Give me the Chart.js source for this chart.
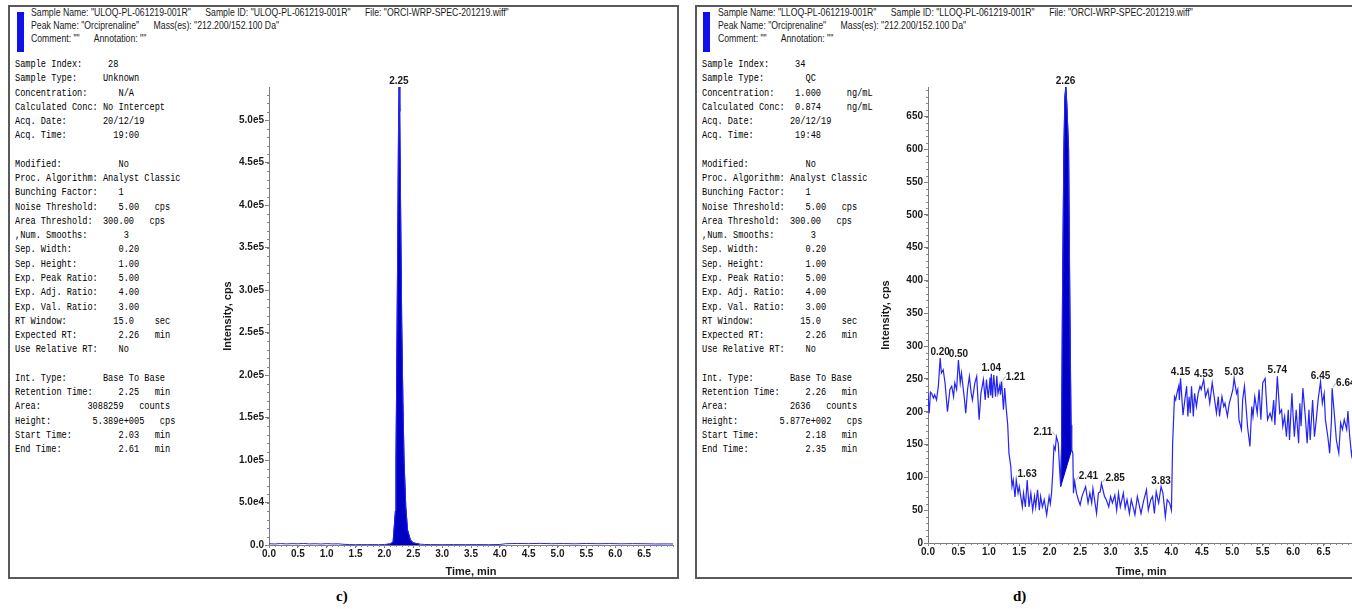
<!DOCTYPE html>
<html>
<head>
<meta charset="utf-8">
<title>Orciprenaline chromatograms</title>
<script src="https://cdn.jsdelivr.net/npm/chart.js"></script>
<style>
    html, body { margin: 0; padding: 0; background: #fff; overflow: hidden; }
    body { position: relative; width: 1352px; height: 609px; }
    .panel { position: absolute; top: 5px; height: 574px; border: 2px solid #5a5a5a; box-sizing: border-box; }
    .bar { position: absolute; top: 12px; width: 7px; height: 40px; background: #1010e8; }
    .hdr {
        position: absolute; top: 6px; white-space: pre; color: #1a1a1a;
        font: 11px/13px "Liberation Sans", Arial, sans-serif;
        transform: scaleX(0.79); transform-origin: 0 0;
    }
    .info {
        position: absolute; top: 58px; white-space: pre; color: #000;
        font: 10px/14.26px "Liberation Mono", "Courier New", monospace;
        transform: scaleX(0.862); transform-origin: 0 0;
    }
    .tag { position: absolute; top: 588px; font: bold 15px "Liberation Serif", "Times New Roman", serif; color: #000; }
    canvas { position: absolute; top: 70px; }
</style>
</head>
<body>
    <!-- panel c) -->
    <div class="panel" style="left:8px; width:671px;"></div>
    <div class="bar" style="left:17px;"></div>
    <div class="hdr" style="left:31px;">Sample Name: &quot;ULOQ-PL-061219-001R&quot;      Sample ID: &quot;ULOQ-PL-061219-001R&quot;      File: &quot;ORCI-WRP-SPEC-201219.wiff&quot;
Peak Name: &quot;Orciprenaline&quot;      Mass(es): &quot;212.200/152.100 Da&quot;
Comment: &quot;&quot;      Annotation: &quot;&quot;</div>
    <div class="info" style="left:15px;">Sample Index:     28
Sample Type:     Unknown
Concentration:      N/A
Calculated Conc: No Intercept
Acq. Date:       20/12/19
Acq. Time:         19:00

Modified:           No
Proc. Algorithm: Analyst Classic
Bunching Factor:    1
Noise Threshold:    5.00   cps
Area Threshold:  300.00   cps
,Num. Smooths:       3
Sep. Width:         0.20
Sep. Height:        1.00
Exp. Peak Ratio:    5.00
Exp. Adj. Ratio:    4.00
Exp. Val. Ratio:    3.00
RT Window:         15.0    sec
Expected RT:        2.26   min
Use Relative RT:    No

Int. Type:       Base To Base
Retention Time:     2.25   min
Area:         3088259   counts
Height:        5.389e+005   cps
Start Time:         2.03   min
End Time:           2.61   min</div>
    <canvas id="chartC" width="458" height="512" style="left:220px;"></canvas>
    <div class="tag" style="left:336px;">c)</div>

    <!-- panel d) -->
    <div class="panel" style="left:695px; width:700px;"></div>
    <div class="bar" style="left:703px;"></div>
    <div class="hdr" style="left:718px;">Sample Name: &quot;LLOQ-PL-061219-001R&quot;      Sample ID: &quot;LLOQ-PL-061219-001R&quot;      File: &quot;ORCI-WRP-SPEC-201219.wiff&quot;
Peak Name: &quot;Orciprenaline&quot;      Mass(es): &quot;212.200/152.100 Da&quot;
Comment: &quot;&quot;      Annotation: &quot;&quot;</div>
    <div class="info" style="left:702px;">Sample Index:     34
Sample Type:        QC
Concentration:    1.000     ng/mL
Calculated Conc:  0.874     ng/mL
Acq. Date:       20/12/19
Acq. Time:        19:48

Modified:           No
Proc. Algorithm: Analyst Classic
Bunching Factor:    1
Noise Threshold:    5.00   cps
Area Threshold:  300.00   cps
,Num. Smooths:       3
Sep. Width:         0.20
Sep. Height:        1.00
Exp. Peak Ratio:    5.00
Exp. Adj. Ratio:    4.00
Exp. Val. Ratio:    3.00
RT Window:         15.0    sec
Expected RT:        2.26   min
Use Relative RT:    No

Int. Type:       Base To Base
Retention Time:     2.26   min
Area:            2636   counts
Height:        5.877e+002   cps
Start Time:         2.18   min
End Time:           2.35   min</div>
    <canvas id="chartD" width="481" height="512" style="left:878px;"></canvas>
    <div class="tag" style="left:1013px;">d)</div>

<script>
// axis ticks shared by both panels / per panel
const timeTicks = [0.0, 0.5, 1.0, 1.5, 2.0, 2.5, 3.0, 3.5, 4.0, 4.5, 5.0, 5.5, 6.0, 6.5];
const cYTicks = [0, 50000, 100000, 150000, 200000, 250000, 300000, 350000, 400000, 450000, 500000];
const dYTicks = [0, 50, 100, 150, 200, 250, 300, 350, 400, 450, 500, 550, 600, 650];

// c) ULOQ trace (time in min, intensity in cps)
const cTime = [0.00, 0.10, 0.20, 0.30, 0.40, 0.50, 0.60, 0.70, 0.80, 0.90,
    1.00, 1.10, 1.20, 1.30, 1.40, 1.50, 1.60, 1.70, 1.80, 1.90,
    2.00, 2.03, 2.10, 2.15, 2.19, 2.20, 2.21, 2.23, 2.245, 2.255,
    2.265, 2.28, 2.30, 2.32, 2.34, 2.37, 2.40, 2.45, 2.50, 2.61,
    2.70, 2.80, 3.00, 3.20, 3.40, 3.60, 3.80, 4.00, 4.10, 4.30,
    4.50, 4.70, 4.90, 5.10, 5.30, 5.50, 5.70, 5.90, 6.10, 6.30,
    6.50, 6.70, 6.90, 7.00];
const cIntensity = [1500, 1200, 1700, 1300, 1600, 1400, 1800, 1300, 1500, 1200,
    1600, 1300, 1400, 800, 500, 400, 500, 400, 500, 400,
    600, 700, 1200, 3500, 40000, 100000, 180000, 350000, 500000, 538900,
    510000, 400000, 260000, 170000, 100000, 45000, 18000, 6000, 2500, 1000,
    600, 500, 400, 500, 400, 500, 400, 600, 1500, 1800,
    1600, 1900, 1500, 1700, 1400, 1800, 1500, 1700, 1400, 1600,
    1500, 1200, 1300, 1200];
const cPeakWindow = [2.03, 2.61];
const cLabelTime = [2.25];
const cLabelHeight = [538900];

// d) LLOQ trace
const dTime = [0.00, 0.02, 0.04, 0.06, 0.09, 0.11, 0.14, 0.17, 0.20, 0.22,
    0.25, 0.28, 0.32, 0.36, 0.39, 0.42, 0.44, 0.47, 0.50, 0.53,
    0.55, 0.60, 0.62, 0.65, 0.68, 0.71, 0.73, 0.77, 0.80, 0.84,
    0.87, 0.91, 0.94, 0.96, 0.99, 1.02, 1.03, 1.04, 1.06, 1.08,
    1.11, 1.13, 1.15, 1.18, 1.19, 1.21, 1.24, 1.26, 1.29, 1.31,
    1.33, 1.36, 1.38, 1.40, 1.43, 1.45, 1.48, 1.50, 1.55, 1.57,
    1.60, 1.63, 1.66, 1.69, 1.72, 1.75, 1.77, 1.80, 1.83, 1.85,
    1.88, 1.91, 1.95, 1.99, 2.01, 2.03, 2.05, 2.07, 2.09, 2.11,
    2.14, 2.16, 2.18, 2.195, 2.21, 2.233, 2.25, 2.265, 2.28, 2.31,
    2.33, 2.35, 2.36, 2.38, 2.39, 2.41, 2.44, 2.47, 2.50, 2.53,
    2.55, 2.59, 2.63, 2.66, 2.69, 2.71, 2.77, 2.80, 2.83, 2.85,
    2.90, 2.93, 2.97, 3.00, 3.03, 3.07, 3.10, 3.13, 3.16, 3.21,
    3.24, 3.27, 3.31, 3.34, 3.37, 3.40, 3.44, 3.47, 3.50, 3.54,
    3.59, 3.62, 3.66, 3.69, 3.72, 3.75, 3.79, 3.83, 3.86, 3.90,
    3.93, 3.97, 4.00, 4.02, 4.05, 4.07, 4.09, 4.12, 4.13, 4.15,
    4.19, 4.22, 4.25, 4.27, 4.29, 4.31, 4.33, 4.36, 4.38, 4.41,
    4.44, 4.47, 4.49, 4.53, 4.56, 4.60, 4.63, 4.67, 4.71, 4.74,
    4.77, 4.79, 4.83, 4.86, 4.88, 4.92, 4.95, 4.98, 5.01, 5.03,
    5.07, 5.09, 5.11, 5.15, 5.17, 5.20, 5.23, 5.25, 5.29, 5.32,
    5.34, 5.37, 5.41, 5.44, 5.47, 5.50, 5.54, 5.56, 5.58, 5.62,
    5.65, 5.68, 5.70, 5.74, 5.78, 5.81, 5.83, 5.86, 5.89, 5.92,
    5.94, 5.98, 6.00, 6.02, 6.05, 6.09, 6.11, 6.13, 6.16, 6.20,
    6.23, 6.26, 6.28, 6.32, 6.35, 6.38, 6.41, 6.45, 6.48, 6.51,
    6.53, 6.57, 6.60, 6.63, 6.64, 6.68, 6.71, 6.75, 6.78, 6.81,
    6.84, 6.88, 6.90, 6.93, 6.96, 6.99];
const dIntensity = [228, 198, 230, 228, 221, 226, 218, 239, 282, 259,
    264, 244, 200, 234, 239, 223, 244, 234, 279, 244,
    259, 218, 198, 234, 254, 228, 218, 244, 254, 188,
    228, 249, 218, 249, 221, 252, 225, 258, 221, 256,
    223, 255, 228, 241, 226, 246, 203, 236, 200, 180,
    137, 117, 86, 96, 70, 96, 76, 86, 55, 76,
    55, 96, 55, 76, 50, 71, 55, 81, 50, 71,
    55, 66, 43, 71, 60, 76, 107, 147, 142, 162,
    152, 117, 86, 150, 370, 600, 680, 695, 670, 600,
    370, 180, 142, 137, 76, 94, 76, 66, 58, 71,
    76, 86, 61, 76, 61, 83, 45, 76, 78, 91,
    71, 66, 55, 71, 61, 73, 50, 76, 55, 76,
    53, 66, 45, 66, 55, 43, 71, 58, 45, 63,
    81, 50, 66, 71, 45, 78, 61, 86, 76, 40,
    66, 61, 50, 152, 223, 218, 228, 239, 218, 251,
    195, 218, 239, 193, 223, 198, 239, 193, 228, 208,
    228, 239, 234, 249, 223, 234, 213, 244, 218, 198,
    223, 193, 223, 208, 213, 193, 213, 223, 234, 251,
    228, 234, 188, 173, 218, 239, 203, 178, 147, 208,
    193, 223, 198, 234, 188, 244, 251, 218, 188, 198,
    188, 218, 180, 254, 198, 203, 178, 193, 162, 203,
    157, 228, 193, 162, 203, 152, 213, 178, 236, 193,
    152, 203, 157, 218, 162, 188, 218, 246, 213, 228,
    188, 162, 137, 188, 236, 193, 157, 137, 183, 173,
    188, 173, 201, 162, 134, 150];
const dPeakWindow = [2.18, 2.36];
const dBaseTime = [2.18, 2.36];
const dBaseValue = [86, 142];
const dLabelTime = [0.20, 0.50, 1.04, 1.21, 1.63, 2.11, 2.26, 2.41, 2.85, 3.83, 4.15, 4.53, 5.03, 5.74, 6.45, 6.64];
const dLabelHeight = [282, 279, 258, 246, 96, 162, 695, 94, 91, 86, 251, 249, 251, 254, 246, 236];
// which side the label sits on (0 = above, 1 = right with leader, -1 = left with leader)
const dLabelSide = [0, 0, 0, 1, 0, -1, 0, 1, 1, 0, 0, 0, 0, 0, 0, 1];

const narrow = '"Liberation Sans Narrow", "Arial Narrow", "Liberation Sans", Arial, sans-serif';
const lineBlue = '#2424f4';
const fillBlue = '#0000c4';

const toPoints = (ts, vs) => ts.map((t, i) => ({ x: t, y: vs[i] }));
const inWindow = (ts, vs, w) => toPoints(ts, vs).filter(p => p.x >= w[0] && p.x <= w[1]);

// small ticks between the labelled ones
const minorTicks = {
    id: 'minorTicks',
    afterDraw(chart, args, opts) {
        const { ctx, chartArea, scales: { x, y } } = chart;
        ctx.save();
        ctx.strokeStyle = '#8a8a8a';
        ctx.lineWidth = 1;
        ctx.beginPath();
        for (let i = 0; i * opts.x <= x.max + 1e-9; i++) {
            const px = Math.round(x.getPixelForValue(i * opts.x)) + 0.5;
            ctx.moveTo(px, chartArea.bottom);
            ctx.lineTo(px, chartArea.bottom + 2);
        }
        for (let i = 0; i * opts.y <= y.max + 1e-9; i++) {
            const py = Math.round(y.getPixelForValue(i * opts.y)) + 0.5;
            ctx.moveTo(chartArea.left, py);
            ctx.lineTo(chartArea.left - 2, py);
        }
        ctx.stroke();
        ctx.restore();
    }
};

// retention time labels on the peaks
const peakLabels = {
    id: 'peakLabels',
    afterDatasetsDraw(chart, args, opts) {
        const { ctx, scales: { x, y } } = chart;
        ctx.save();
        ctx.font = 'bold 10px ' + narrow;
        ctx.fillStyle = '#1a1a1a';
        ctx.strokeStyle = '#9a9a9a';
        ctx.lineWidth = 0.8;
        opts.times.forEach((t, i) => {
            const px = x.getPixelForValue(t);
            const py = y.getPixelForValue(opts.heights[i]);
            const side = opts.sides ? opts.sides[i] : 0;
            if (side === 0) {
                ctx.textAlign = 'center';
                ctx.fillText(t.toFixed(2), px, py - 3);
            } else {
                ctx.beginPath();
                ctx.moveTo(px + side, py - 1);
                ctx.lineTo(px + side * 4, py - 5);
                ctx.stroke();
                ctx.textAlign = side > 0 ? 'left' : 'right';
                ctx.fillText(t.toFixed(2), px + side * 4, py - 2);
            }
        });
        ctx.restore();
    }
};

function chromatogram(id, cfg) {
    const tickFont = { family: narrow, size: 10, weight: 'bold' };
    return new Chart(document.getElementById(id), {
        type: 'line',
        data: { datasets: cfg.datasets },
        options: {
            responsive: false,
            animation: false,
            devicePixelRatio: 1,
            layout: { padding: { top: 17, right: 5, left: 0, bottom: 0 } },
            elements: { point: { radius: 0 }, line: { tension: 0 } },
            plugins: {
                legend: { display: false },
                tooltip: { enabled: false },
                minorTicks: cfg.minor,
                peakLabels: cfg.labels
            },
            scales: {
                x: {
                    type: 'linear', min: 0, max: 7,
                    afterBuildTicks: s => { s.ticks = timeTicks.map(v => ({ value: v })); },
                    afterFit: s => { s.height = cfg.xHeight; },
                    ticks: { autoSkip: false, maxRotation: 0, padding: 0, color: '#1a1a1a',
                        font: tickFont, callback: v => v.toFixed(1) },
                    grid: { drawOnChartArea: false, tickLength: 3, color: '#7a7a7a' },
                    border: { color: '#7a7a7a' },
                    title: { display: true, text: 'Time, min', color: '#1a1a1a',
                        font: { family: narrow, size: 11, weight: 'bold' }, padding: { top: 0, bottom: 3 } }
                },
                y: {
                    min: 0, max: cfg.yMax,
                    afterBuildTicks: s => { s.ticks = cfg.yTicks.map(v => ({ value: v })); },
                    afterFit: s => { s.width = cfg.yWidth; },
                    ticks: { autoSkip: false, padding: 1, color: '#1a1a1a', font: tickFont, callback: cfg.yFormat },
                    grid: { drawOnChartArea: false, tickLength: 4, color: '#7a7a7a' },
                    border: { color: '#7a7a7a' },
                    title: { display: true, text: 'Intensity, cps', color: '#1a1a1a',
                        font: { family: '"Liberation Sans", Arial, sans-serif', size: 11, weight: 'bold' },
                        padding: { top: 1, bottom: 0 } }
                }
            }
        },
        plugins: [minorTicks, peakLabels]
    });
}

chromatogram('chartC', {
    xHeight: 37, yWidth: 49, yMax: 538900, yTicks: cYTicks,
    yFormat: v => v === 0 ? '0.0' : v.toExponential(1).replace('+', ''),
    minor: { x: 0.1, y: 10000 },
    labels: { times: cLabelTime, heights: cLabelHeight },
    datasets: [
        { data: toPoints(cTime, cIntensity), borderColor: lineBlue, borderWidth: 1, fill: false },
        { data: inWindow(cTime, cIntensity, cPeakWindow), borderColor: fillBlue, borderWidth: 1,
          backgroundColor: fillBlue, fill: 'origin' }
    ]
});

chromatogram('chartD', {
    xHeight: 39, yWidth: 50, yMax: 695, yTicks: dYTicks,
    yFormat: v => String(v),
    minor: { x: 0.1, y: 10 },
    labels: { times: dLabelTime, heights: dLabelHeight, sides: dLabelSide },
    datasets: [
        { data: toPoints(dTime, dIntensity), borderColor: lineBlue, borderWidth: 1.2, fill: false },
        { data: inWindow(dTime, dIntensity, dPeakWindow), borderColor: fillBlue, borderWidth: 1,
          backgroundColor: fillBlue, fill: 2 },
        { data: toPoints(dBaseTime, dBaseValue), borderColor: fillBlue, borderWidth: 1, fill: false }
    ]
});
</script>
</body>
</html>
